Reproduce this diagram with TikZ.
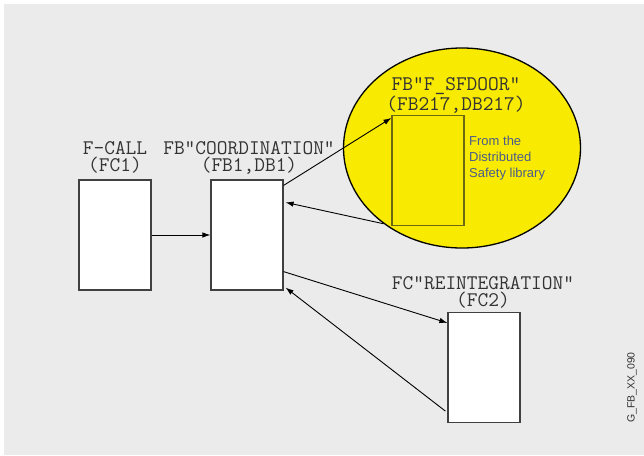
\documentclass[tikz,border=0pt]{standalone}
\usepackage{fontspec}
\setmainfont{Liberation Sans}
\usetikzlibrary{arrows.meta,shapes.geometric}
\definecolor{blockBg}{RGB}{235,235,235}
\definecolor{blockLine}{RGB}{64,64,64}
\definecolor{blockText}{RGB}{51,51,51}
\definecolor{libYellow}{RGB}{248,234,0}
\definecolor{libLine}{RGB}{110,104,20}
\definecolor{noteBlue}{RGB}{74,92,140}
\tikzset{
  block/.style={draw=blockLine, line width=1.2pt, fill=white,
    minimum width=72pt, minimum height=110pt, inner sep=0pt},
  libblock/.style={block, draw=libLine, fill=libYellow},
  blocklabel/.style={align=center, inner sep=0pt, text=blockText,
    font=\fontsize{20.8}{17}\selectfont\ttfamily},
  call/.style={-{Latex[length=8pt,width=5.5pt]}, line width=0.9pt, draw=black}
}

\begin{document}
\begin{tikzpicture}[x=1pt,y=-1pt]
    \useasboundingbox (0,0) rectangle (644,455);
    \fill[blockBg] (4,4) rectangle (644,455);
    \node[ellipse, draw=black, line width=1.3pt, fill=libYellow,
      minimum width=237pt, minimum height=200pt, inner sep=0pt] (lib) at (462,148) {};
    \node[block] (fc1) at (115,235) {};
    \node[block] (fb1) at (247,235) {};
    \node[libblock] (sfdoor) at (428,170.5) {};
    \node[block] (fc2) at (484,367.5) {};
    \node[blocklabel] (fc1lbl) at (115,157.5) {F-CALL\\(FC1)};
    \node[blocklabel] (fb1lbl) at (249,157.5) {FB"COORDINATION"\\(FB1,DB1)};
    \node[blocklabel] (sfdoorlbl) at (456,95.5) {FB"F\_SFDOOR"\\(FB217,DB217)};
    \node[blocklabel] (fc2lbl) at (483,292) {FC"REINTEGRATION"\\(FC2)};
    \node[align=left, anchor=north west, inner sep=0pt, text=noteBlue,
      font=\fontsize{13}{16}\selectfont] (libnote) at (469,136) {From the\\Distributed\\Safety library};
    \node[rotate=90, inner sep=0pt, text=blockText,
      font=\fontsize{10.5}{12}\selectfont] (figid) at (632,387.5) {G\_FB\_XX\_090};
    \draw[call] (fc1.east) -- (fb1.west);
    \draw[call] ([yshift=-6pt]fb1.north east) -- ([yshift=-3pt]sfdoor.north west);
    \draw[call] (lib.224) -- ([xshift=2pt,yshift=-23pt]fb1.north east);
    \draw[call] ([yshift=19pt]fb1.south east) -- ([yshift=-11pt]fc2.north west);
    \draw[call] ([xshift=-2pt,yshift=12pt]fc2.south west) -- ([xshift=2pt,yshift=3pt]fb1.south east);
  \end{tikzpicture}
\end{document}
